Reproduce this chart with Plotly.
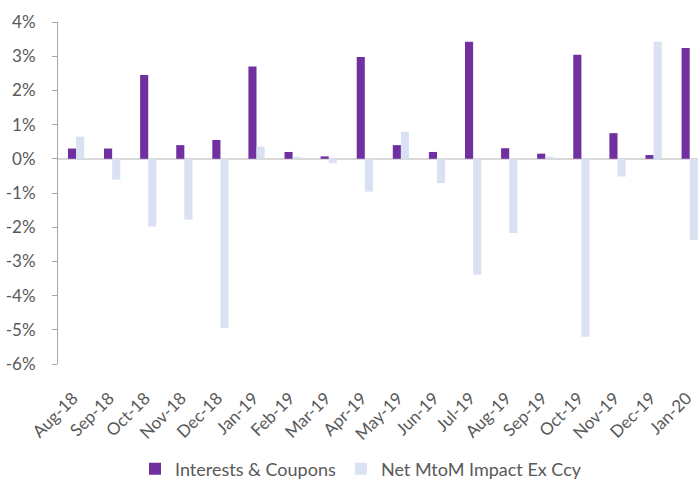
import plotly.graph_objects as go

months = ["Aug-18", "Sep-18", "Oct-18", "Nov-18", "Dec-18", "Jan-19", "Feb-19", "Mar-19",
          "Apr-19", "May-19", "Jun-19", "Jul-19", "Aug-19", "Sep-19", "Oct-19", "Nov-19",
          "Dec-19", "Jan-20"]
interests_coupons = [0.30, 0.30, 2.45, 0.40, 0.55, 2.70, 0.20, 0.07,
                     2.98, 0.40, 0.20, 3.42, 0.31, 0.15, 3.04, 0.75,
                     0.11, 3.24]
net_mtom = [0.65, -0.61, -1.98, -1.78, -4.95, 0.36, 0.06, -0.13,
            -0.96, 0.79, -0.71, -3.39, -2.17, 0.06, -5.20, -0.52,
            3.42, -2.37]
y_ticks = [4, 3, 2, 1, 0, -1, -2, -3, -4, -5, -6]
y_tick_text = ["4%", "3%", "2%", "1%", "0%", "-1%", "-2%", "-3%", "-4%", "-5%", "-6%"]

font_family = "Lato, 'Open Sans', sans-serif"
grey = "#595959"

W, H = 698, 482

fig = go.Figure()
fig.add_trace(go.Bar(x=months, y=interests_coupons, name="Interests & Coupons",
                     marker=dict(color="#7030A0", line=dict(width=0))))
fig.add_trace(go.Bar(x=months, y=net_mtom, name="Net MtoM Impact Ex Ccy",
                     marker=dict(color="#D9E1F2", line=dict(width=0))))

fig.update_layout(
    width=W, height=H,
    margin=dict(l=58, r=0, t=22, b=118, autoexpand=False),
    paper_bgcolor="white", plot_bgcolor="white",
    barmode="group", bargap=0.55, bargroupgap=0.0,
    font=dict(family=font_family, color=grey, size=15),
    showlegend=True,
    legend=dict(orientation="h", xref="container", yref="container",
                x=361 / W, xanchor="center", y=13 / H, yanchor="middle",
                font=dict(size=18, color=grey), itemwidth=30, traceorder="normal"),
    xaxis=dict(type="category", range=[-0.5, 17.23], tickangle=-45, automargin=False,
               showgrid=False, showline=False, ticks="", zeroline=False,
               tickfont=dict(size=17, color=grey), ticklabelstandoff=20,
               ticklabelshift=-3),
    yaxis=dict(range=[-6, 4], tickvals=y_ticks, ticktext=y_tick_text, automargin=False,
               showgrid=False, showline=True, linecolor="#A6A6A6", linewidth=1,
               ticks="outside", ticklen=5, tickcolor="#A6A6A6",
               zeroline=True, zerolinecolor="#D9D9D9", zerolinewidth=2,
               tickfont=dict(size=17, color=grey), ticklabelstandoff=13),
)

fig.write_html("out.html", config={"displayModeBar": False},
               post_script="document.body.style.margin='0';document.body.style.overflow='hidden';")
